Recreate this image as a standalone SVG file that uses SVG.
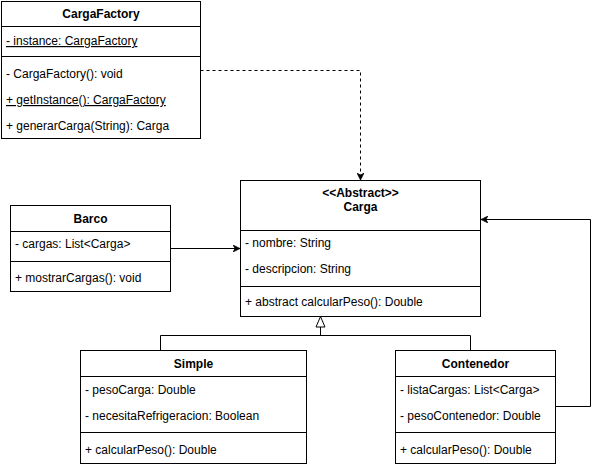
<svg xmlns="http://www.w3.org/2000/svg" width="599" height="466" viewBox="0 0 599 466">
<style>
.box{fill:#fff;stroke:#000;stroke-width:1}
.ln{stroke:#000;stroke-width:1;fill:none}
text{font-family:"Liberation Sans",Arial,sans-serif;font-size:12px;fill:#000}
.t{font-weight:bold;text-anchor:middle}
.u{text-decoration:underline}
</style>
<defs>
<marker id="arr" viewBox="0 0 10 10" refX="10" refY="5" markerWidth="7" markerHeight="7" markerUnits="userSpaceOnUse" orient="auto">
<path d="M0,0 L10,5 L0,10 L3,5 Z" fill="#000" stroke="#000" stroke-width="1"/>
</marker>
<marker id="tri" viewBox="0 0 12 12" refX="11.5" refY="6" markerWidth="12" markerHeight="12" markerUnits="userSpaceOnUse" orient="auto">
<path d="M1,1.5 L11.5,6 L1,10.5 Z" fill="#fff" stroke="#000" stroke-width="1"/>
</marker>
</defs>
<g id="connectors">
<path class="ln" d="M200.5,70.5 H360.5 V180" stroke-dasharray="3,3" marker-end="url(#arr)"/>
<path class="ln" d="M170.5,248.5 H240" marker-end="url(#arr)"/>
<path class="ln" d="M555.5,406.5 H590.5 V219.5 H481" marker-end="url(#arr)"/>
<path class="ln" d="M160.5,350.5 V335.5 H470.5 V350.5"/>
<path class="ln" d="M320.5,335.5 V316.5" marker-end="url(#tri)"/>
</g>
<g id="CargaFactory">
<rect class="box" x="1.5" y="1.5" width="199" height="137"/>
<line class="ln" x1="1.5" y1="26.5" x2="200.5" y2="26.5"/>
<line class="ln" x1="1.5" y1="56.5" x2="200.5" y2="56.5"/>
<text class="t" x="101" y="18">CargaFactory</text>
<text class="u" x="6" y="45">- instance: CargaFactory</text>
<text x="6" y="78">- CargaFactory(): void</text>
<text class="u" x="6" y="104">+ getInstance(): CargaFactory</text>
<text x="6" y="130">+ generarCarga(String): Carga</text>
</g>
<g id="Carga">
<rect class="box" x="240.5" y="180.5" width="240" height="136"/>
<line class="ln" x1="240.5" y1="230.5" x2="480.5" y2="230.5"/>
<line class="ln" x1="240.5" y1="286.5" x2="480.5" y2="286.5"/>
<text class="t" x="360.5" y="197">&lt;&lt;Abstract&gt;&gt;</text>
<text class="t" x="360.5" y="211">Carga</text>
<text x="245" y="247">- nombre: String</text>
<text x="245" y="273">- descripcion: String</text>
<text x="245" y="306">+ abstract calcularPeso(): Double</text>
</g>
<g id="Barco">
<rect class="box" x="10.5" y="205.5" width="160" height="86"/>
<line class="ln" x1="10.5" y1="231.5" x2="170.5" y2="231.5"/>
<line class="ln" x1="10.5" y1="261.5" x2="170.5" y2="261.5"/>
<text class="t" x="90.5" y="223">Barco</text>
<text x="15" y="248">- cargas: List&lt;Carga&gt;</text>
<text x="15" y="282">+ mostrarCargas(): void</text>
</g>
<g id="Simple">
<rect class="box" x="80.5" y="350.5" width="226" height="113"/>
<line class="ln" x1="80.5" y1="376.5" x2="306.5" y2="376.5"/>
<line class="ln" x1="80.5" y1="432.5" x2="306.5" y2="432.5"/>
<text class="t" x="193.5" y="368">Simple</text>
<text x="85" y="394">- pesoCarga: Double</text>
<text x="85" y="420">- necesitaRefrigeracion: Boolean</text>
<text x="85" y="454">+ calcularPeso(): Double</text>
</g>
<g id="Contenedor">
<rect class="box" x="395.5" y="350.5" width="160" height="113"/>
<line class="ln" x1="395.5" y1="376.5" x2="555.5" y2="376.5"/>
<line class="ln" x1="395.5" y1="432.5" x2="555.5" y2="432.5"/>
<text class="t" x="475.5" y="368">Contenedor</text>
<text x="400" y="394">- listaCargas: List&lt;Carga&gt;</text>
<text x="400" y="420">- pesoContenedor: Double</text>
<text x="400" y="454">+ calcularPeso(): Double</text>
</g>
</svg>
